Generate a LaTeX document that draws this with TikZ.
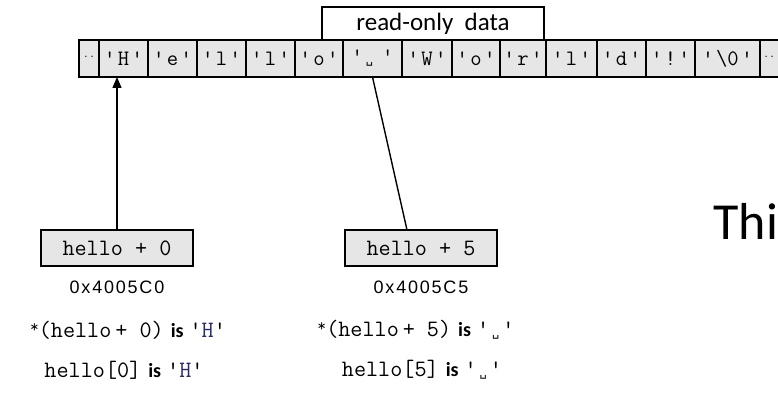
\documentclass[tikz,border=0pt]{standalone}
\usepackage{fontspec}
\setmainfont{Carlito}
\newfontfamily\addrfont{Liberation Sans}
\newfontfamily\vsfont{DejaVu Sans Mono}
\usetikzlibrary{positioning,arrows.meta}

\definecolor{cellgray}{RGB}{230,230,230}
\definecolor{hblue}{RGB}{40,40,110}
\newcommand{\sq}{\char39\relax}
\newcommand{\chr}[1]{\sq\hspace{2.5pt}#1\hspace{2.5pt}\sq}
\newcommand{\vsp}{{\vsfont\fontsize{12}{12}\selectfont ␣}}
\newcommand{\twodots}{{\fontsize{12}{12}\selectfont\textperiodcentered\textperiodcentered}}
\newcommand{\deref}{\raisebox{5pt}{\fontsize{17}{17}\selectfont *}}
\newcommand{\isword}{\hspace{7pt}{\normalfont\bfseries\fontsize{20}{20}\selectfont is}\hspace{6pt}}

\tikzset{
  cell/.style={draw, line width=1.4pt, fill=cellgray, outer sep=0pt, inner sep=0pt,
    minimum height=37pt, font=\ttfamily\fontsize{22}{22}\selectfont},
  ptr/.style={draw, line width=1.6pt, fill=cellgray, outer sep=0pt,
    minimum width=152pt, minimum height=36pt, font=\ttfamily\fontsize{23.5}{23.5}\selectfont},
  addr/.style={font=\addrfont\fontsize{18}{18}\selectfont\addfontfeature{LetterSpace=10}},
  expr/.style={font=\ttfamily\fontsize{23.5}{23.5}\selectfont},
}

\begin{document}
\begin{tikzpicture}[x=1pt,y=-1pt]
  \clip (0,0) rectangle (778,395);
  % Nodes
  % memory row
  \node[cell, minimum width=20pt, anchor=west] (dotsL) at (79,58.5) {\twodots};
  \node[cell, minimum width=49pt, right=0pt of dotsL] (cH) {\chr{H}};
  \node[cell, minimum width=49pt, right=0pt of cH] (ce) {\chr{e}};
  \node[cell, minimum width=49pt, right=0pt of ce] (cl1) {\chr{l}};
  \node[cell, minimum width=49pt, right=0pt of cl1] (cl2) {\chr{l}};
  \node[cell, minimum width=48pt, right=0pt of cl2] (co1) {\chr{o}};
  \node[cell, minimum width=59pt, right=0pt of co1] (spc) {\sq\hspace{3pt}\vsp\hspace{9pt}\sq};
  \node[cell, minimum width=50pt, right=0pt of spc] (cW) {\chr{W}};
  \node[cell, minimum width=48pt, right=0pt of cW] (co2) {\chr{o}};
  \node[cell, minimum width=46pt, right=0pt of co2] (cr) {\chr{r}};
  \node[cell, minimum width=51pt, right=0pt of cr] (cl3) {\chr{l}};
  \node[cell, minimum width=49pt, right=0pt of cl3] (cd) {\chr{d}};
  \node[cell, minimum width=49pt, right=0pt of cd] (cex) {\chr{!}};
  \node[cell, minimum width=65pt, right=0pt of cex] (cnul) {\sq\hspace{2.5pt}\textbackslash 0\hspace{2.5pt}\sq};
  \node[cell, minimum width=30pt, right=0pt of cnul, text width=26pt, align=left] (dotsR) {\hspace{1pt}\twodots};
  % segment label
  \node[draw, line width=1.4pt, fill=white, outer sep=0pt, minimum width=222pt, minimum height=33pt,
    font=\fontsize{25}{25}\selectfont] (ro) at (433,23.5) {read-only\ \ data};
  % pointers
  \node[ptr] (p0) at (117,248) {hello + 0};
  \node[ptr] (p5) at (421,248) {hello + 5};
  \node[addr] (a0) at (117,287) {0x4005C0};
  \node[addr] (a5) at (421,287) {0x4005C5};
  % expressions
  \node[expr] (e0) at (128,330) {\deref(hello\,+ 0)\isword\sq\textcolor{hblue}{H}\sq};
  \node[expr] (i0) at (124,370) {hello[0]\isword\sq\textcolor{hblue}{H}\sq};
  \node[expr] (e5) at (416,330) {\deref(hello\,+ 5)\isword\sq\hspace{3pt}\vsp\hspace{3pt}\sq};
  \node[expr] (i5) at (422,370) {hello[5]\isword\sq\hspace{3pt}\vsp\hspace{3pt}\sq};
  \node[font=\fontsize{52}{52}\selectfont, anchor=base west] (thi) at (710,240) {Thi};
  % edges
  \draw[line width=1.4pt, -{Triangle[length=11pt,width=9pt]}] (p0.north) -- (p0.north |- cH.south);
  \draw[line width=1.4pt] ([xshift=-14pt]p5.north) -- (spc.south);
\end{tikzpicture}
\end{document}
